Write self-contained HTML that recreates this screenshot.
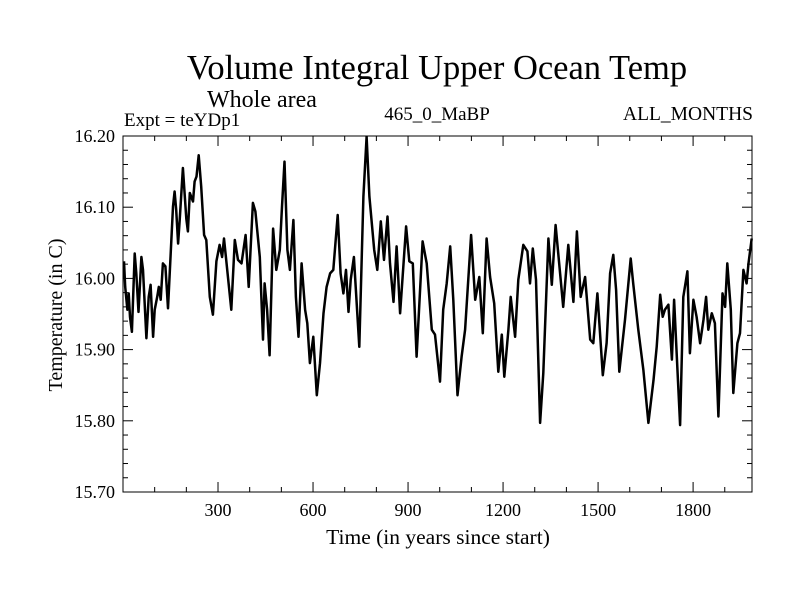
<!DOCTYPE html>
<html><head><meta charset="utf-8"><style>
body{margin:0;background:#fff;}
svg{display:block;font-family:"Liberation Serif",serif;}
</style></head><body>
<svg id="chart" width="800" height="600">
<text x="437" y="79" font-size="34.5" text-anchor="middle">Volume Integral Upper Ocean Temp</text>
<text x="207" y="107" font-size="24">Whole area</text>
<text x="124" y="126" font-size="19">Expt = teYDp1</text>
<text x="437" y="120" font-size="19" text-anchor="middle">465_0_MaBP</text>
<text x="753" y="120" font-size="19.5" text-anchor="end">ALL_MONTHS</text>
<text x="438" y="544" font-size="21.5" text-anchor="middle">Time (in years since start)</text>
<text transform="translate(62,315) rotate(-90)" font-size="20" text-anchor="middle">Temperature (in C)</text>
<g id="axes"></g>
<g id="series"></g>
</svg>
<script>
const years=[3,7,14,18,22,28,37,42,49,58,63,74,81,87,95,100,108,113,119,126,134,142,158,163,168,174,179,189,200,205,211,221,226,232,239,247,256,263,274,284,295,305,313,319,326,342,353,363,374,387,397,410,418,432,442,447,455,463,474,484,495,502,510,519,527,538,546,554,564,575,582,590,601,612,622,633,643,654,664,678,687,696,704,712,719,729,746,759,769,778,793,803,814,824,835,843,854,864,875,894,904,915,927,946,959,975,985,1001,1011,1022,1033,1043,1056,1069,1080,1099,1112,1125,1136,1148,1159,1172,1185,1196,1204,1217,1224,1238,1248,1264,1277,1285,1294,1304,1317,1327,1343,1354,1366,1380,1390,1406,1422,1433,1445,1459,1475,1485,1498,1515,1527,1538,1548,1557,1567,1585,1603,1611,1627,1643,1659,1675,1685,1696,1704,1711,1722,1733,1740,1759,1769,1782,1790,1801,1811,1822,1833,1841,1848,1859,1869,1880,1893,1901,1908,1919,1927,1940,1948,1959,1969,1975,1985];
const temps=[16.024,15.988,15.956,15.979,15.946,15.925,16.035,16.007,15.953,16.030,16.012,15.916,15.974,15.991,15.918,15.956,15.974,15.988,15.970,16.021,16.017,15.958,16.101,16.122,16.096,16.049,16.082,16.155,16.084,16.066,16.120,16.108,16.136,16.143,16.173,16.129,16.061,16.054,15.974,15.949,16.024,16.047,16.030,16.056,16.026,15.956,16.054,16.026,16.021,16.061,15.988,16.106,16.094,16.030,15.914,15.993,15.956,15.892,16.070,16.012,16.040,16.101,16.164,16.040,16.012,16.082,15.974,15.918,16.021,15.956,15.937,15.881,15.918,15.836,15.881,15.951,15.988,16.007,16.012,16.089,16.007,15.979,16.012,15.953,15.998,16.030,15.904,16.115,16.199,16.115,16.040,16.012,16.080,16.026,16.087,16.021,15.967,16.045,15.951,16.073,16.024,16.021,15.890,16.052,16.021,15.928,15.921,15.855,15.956,15.993,16.045,15.970,15.836,15.890,15.928,16.061,15.970,16.002,15.923,16.056,16.002,15.965,15.869,15.921,15.862,15.928,15.974,15.918,15.998,16.047,16.038,15.993,16.042,15.998,15.797,15.867,16.056,15.991,16.075,16.007,15.960,16.047,15.967,16.066,15.974,16.002,15.914,15.909,15.979,15.864,15.909,16.007,16.033,15.984,15.869,15.942,16.028,15.993,15.928,15.871,15.797,15.857,15.904,15.977,15.946,15.956,15.963,15.886,15.970,15.794,15.974,16.010,15.895,15.970,15.946,15.909,15.942,15.974,15.928,15.951,15.937,15.806,15.979,15.960,16.021,15.956,15.839,15.909,15.923,16.012,15.993,16.021,16.056];
const xTickLabels=[300,600,900,1200,1500,1800];
const yTickLabels=["15.70","15.80","15.90","16.00","16.10","16.20"];
const L=123,R=752,T=136,B=492,XMAX=1986,YMIN=15.7,YMAX=16.2;
const xs=v=>L+(v/XMAX)*(R-L);
const ys=v=>B-(v-YMIN)/(YMAX-YMIN)*(B-T);
const NS="http://www.w3.org/2000/svg";
const axes=document.getElementById('axes');
function mk(tag,attrs,parent){const e=document.createElementNS(NS,tag);for(const k in attrs)e.setAttribute(k,attrs[k]);parent.appendChild(e);return e;}
const frame=mk('rect',{x:L,y:T,width:R-L,height:B-T,fill:'none',stroke:'#000','stroke-width':1},axes);


for(let v=100;v<XMAX;v+=100){const x=xs(v);const len=(v%300===0)?10:5;
 const t1=mk('line',{x1:x,y1:B,x2:x,y2:B-len,stroke:'#000'},axes);
 
 
 const t2=mk('line',{x1:x,y1:T,x2:x,y2:T+len,stroke:'#000'},axes);
 
 }
xTickLabels.forEach(v=>{const t=mk('text',{x:xs(v),y:B+24,'font-size':18,'text-anchor':'middle'},axes);t.textContent=v;
 
 });
for(let i=0;i<=25;i++){const v=YMIN+i*0.02;const y=ys(v);const len=(i%5===0)?10:5;
 const a=mk('line',{x1:L,y1:y,x2:L+len,y2:y,stroke:'#000'},axes);
 
 
 const b=mk('line',{x1:R,y1:y,x2:R-len,y2:y,stroke:'#000'},axes);
 
 }
yTickLabels.forEach(s=>{const t=mk('text',{x:L-8,y:ys(parseFloat(s))+6,'font-size':18,'text-anchor':'end'},axes);t.textContent=s;
 
 });
const pts=years.map((y,i)=>xs(y).toFixed(1)+','+ys(temps[i]).toFixed(1)).join(' ');
const line=mk('polyline',{points:pts,fill:'none',stroke:'#000','stroke-width':2.5,'stroke-linejoin':'round'},document.getElementById('series'));


</script>
</body></html>
